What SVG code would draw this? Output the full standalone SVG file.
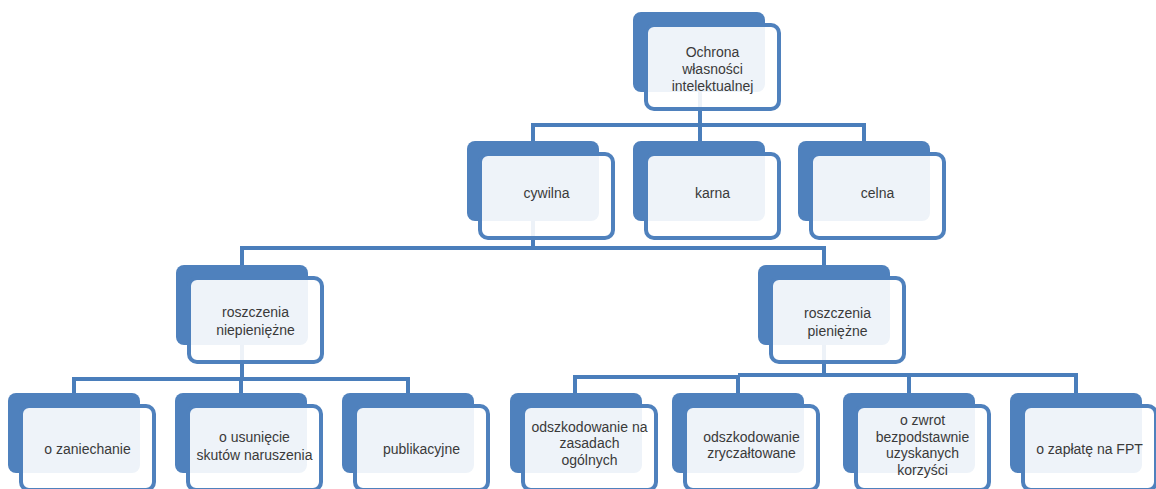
<svg xmlns="http://www.w3.org/2000/svg" width="1156" height="489" viewBox="0 0 1156 489">
<style>
.back{fill:#4f81bd}
.front{fill:#ffffff;fill-opacity:0.9;stroke:#4f81bd;stroke-width:4}
.lbl{font-family:"Liberation Sans",Arial,sans-serif;font-size:14px;fill:#3a3a3a;text-anchor:middle}
.con{fill:none;stroke:#4a7ebb;stroke-width:4;stroke-linejoin:miter}
</style>
<rect width="1156" height="489" fill="#ffffff"/>
<g id="connectors">
<path class="con" d="M700,92 V125"/>
<path class="con" d="M533,141 V125 H864 V141"/>
<path class="con" d="M700,125 V141"/>
<path class="con" d="M533,221 V248"/>
<path class="con" d="M242,265 V248 H824 V265"/>
<path class="con" d="M242,345 V379"/>
<path class="con" d="M74,393 V379 H408 V393"/>
<path class="con" d="M241,379 V393"/>
<path class="con" d="M824,345 V376"/>
<path class="con" d="M575,393 V377 H738 V393"/>
<path class="con" d="M738,375 H1076 V393"/>
<path class="con" d="M909,375 V393"/>
</g>
<g id="n-ochrona">
<rect class="back" x="633" y="12" width="132" height="80" rx="8"/>
<rect class="front" x="646" y="25" width="133" height="84" rx="8"/>
<text class="lbl" x="712.5" y="57">Ochrona</text>
<text class="lbl" x="712.5" y="74">własności</text>
<text class="lbl" x="712.5" y="91">intelektualnej</text>
</g>
<g id="n-cywilna">
<rect class="back" x="467" y="141" width="132" height="80" rx="8"/>
<rect class="front" x="480" y="154" width="133" height="84" rx="8"/>
<text class="lbl" x="546.5" y="198">cywilna</text>
</g>
<g id="n-karna">
<rect class="back" x="633" y="141" width="132" height="80" rx="8"/>
<rect class="front" x="646" y="154" width="133" height="84" rx="8"/>
<text class="lbl" x="712.5" y="198">karna</text>
</g>
<g id="n-celna">
<rect class="back" x="798" y="141" width="132" height="80" rx="8"/>
<rect class="front" x="811" y="154" width="133" height="84" rx="8"/>
<text class="lbl" x="877.5" y="198">celna</text>
</g>
<g id="n-niepieniezne">
<rect class="back" x="176" y="265" width="132" height="80" rx="8"/>
<rect class="front" x="189" y="278" width="133" height="84" rx="8"/>
<text class="lbl" x="255.5" y="317">roszczenia</text>
<text class="lbl" x="255.5" y="335">niepieniężne</text>
</g>
<g id="n-pieniezne">
<rect class="back" x="758" y="265" width="132" height="80" rx="8"/>
<rect class="front" x="771" y="278" width="133" height="84" rx="8"/>
<text class="lbl" x="837.5" y="318">roszczenia</text>
<text class="lbl" x="837.5" y="336">pieniężne</text>
</g>
<g id="n-zaniechanie">
<rect class="back" x="8" y="393" width="132" height="80" rx="8"/>
<rect class="front" x="21" y="406" width="133" height="84" rx="8"/>
<text class="lbl" x="87.5" y="454">o zaniechanie</text>
</g>
<g id="n-usuniecie">
<rect class="back" x="175" y="393" width="132" height="80" rx="8"/>
<rect class="front" x="188" y="406" width="133" height="84" rx="8"/>
<text class="lbl" x="254.5" y="442">o usunięcie</text>
<text class="lbl" x="254.5" y="460">skutów naruszenia</text>
</g>
<g id="n-publikacyjne">
<rect class="back" x="342" y="393" width="132" height="80" rx="8"/>
<rect class="front" x="355" y="406" width="133" height="84" rx="8"/>
<text class="lbl" x="421.5" y="454">publikacyjne</text>
</g>
<g id="n-ogolne">
<rect class="back" x="510" y="393" width="132" height="80" rx="8"/>
<rect class="front" x="523" y="406" width="133" height="84" rx="8"/>
<text class="lbl" x="589.5" y="432">odszkodowanie na</text>
<text class="lbl" x="589.5" y="448">zasadach</text>
<text class="lbl" x="589.5" y="465">ogólnych</text>
</g>
<g id="n-zryczaltowane">
<rect class="back" x="672" y="393" width="132" height="80" rx="8"/>
<rect class="front" x="685" y="406" width="133" height="84" rx="8"/>
<text class="lbl" x="751.5" y="442">odszkodowanie</text>
<text class="lbl" x="751.5" y="458">zryczałtowane</text>
</g>
<g id="n-zwrot">
<rect class="back" x="843" y="393" width="132" height="80" rx="8"/>
<rect class="front" x="856" y="406" width="133" height="84" rx="8"/>
<text class="lbl" x="922.5" y="425">o zwrot</text>
<text class="lbl" x="922.5" y="442">bezpodstawnie</text>
<text class="lbl" x="922.5" y="458">uzyskanych</text>
<text class="lbl" x="922.5" y="475">korzyści</text>
</g>
<g id="n-fpt">
<rect class="back" x="1010" y="393" width="132" height="80" rx="8"/>
<rect class="front" x="1023" y="406" width="133" height="84" rx="8"/>
<text class="lbl" x="1089.5" y="454">o zapłatę na FPT</text>
</g>
</svg>
